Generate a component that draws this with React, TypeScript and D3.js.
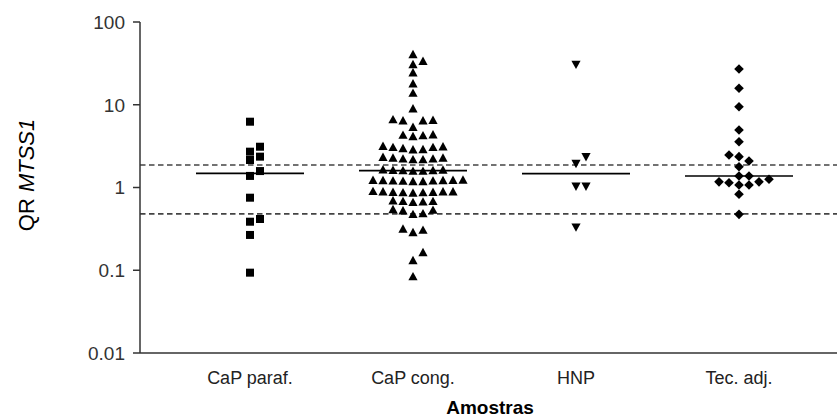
import React from "react";
import * as d3 from "d3";

const W = 837;
const H = 419;

// Sample groups and relative quantification values (log scale)
const categories = ["CaP paraf.", "CaP cong.", "HNP", "Tec. adj."];

const capParaf = [6.24, 3.11, 2.71, 2.36, 2.15, 1.58, 1.38, 0.753, 0.416, 0.386, 0.267, 0.0935];

const capCong = [
  41.0, 34.0, 31.1, 24.7, 18.2, 14.0, 9.06,
  6.7, 6.5, 6.5, 6.6,
  5.43,
  4.2, 4.3, 4.35, 4.4,
  3.0, 3.1, 3.1, 3.15, 3.2, 2.9, 2.92,
  2.2, 2.25, 2.25, 2.3, 2.3, 2.35, 2.2,
  1.6, 1.62, 1.63, 1.64, 1.65, 1.66, 1.6,
  1.2, 1.21, 1.22, 1.23, 1.23, 1.24, 1.25, 1.2, 1.22, 1.24,
  0.87, 0.88, 0.89, 0.9, 0.9, 0.91, 0.89, 0.88, 0.9,
  0.68, 0.69, 0.7, 0.67, 0.69,
  0.54, 0.53, 0.55,
  0.49, 0.48,
  0.32, 0.29, 0.31,
  0.166, 0.133, 0.085,
];

const hnp = [30.3, 2.32, 1.92, 1.02, 1.02, 0.327];

const tecAdj = [
  27.0, 15.8, 9.47, 4.95, 3.57, 2.47, 2.36, 2.09, 1.78, 1.38, 1.38, 1.26,
  1.17, 1.17, 1.14, 1.07, 1.07, 0.828, 0.474,
];

const groupValues = [capParaf, capCong, hnp, tecAdj];
const markerKinds = ["square", "triangleUp", "triangleDown", "diamond"];

const yTicks = [0.01, 0.1, 1, 10, 100];
const yTickLabels = ["0.01", "0.1", "1", "10", "100"];
const refLines = [1.87, 0.48];

const plot = { left: 140, right: W, top: 22, bottom: 353 };

const y = d3.scaleLog().domain([0.01, 100]).range([plot.bottom, plot.top]);
const x = d3.scalePoint<string>().domain(categories).range([250, 739]);

const STEP = 10;
const DY = 8;

// Greedy column-scatter layout: each point takes the nearest free slot
function swarm(values: number[], cx: number) {
  const placed: { x: number; y: number; v: number }[] = [];
  const sorted = [...values].sort((a, b) => a - b);
  for (const v of sorted) {
    const py = y(v);
    for (let k = 0; k < 40; k++) {
      const off = k === 0 ? 0 : (k % 2 === 1 ? 1 : -1) * Math.ceil(k / 2);
      const px = cx + off * STEP;
      const hit = placed.some(
        (p) => Math.abs(p.y - py) < DY && Math.abs(p.x - px) < STEP - 0.5
      );
      if (!hit) {
        placed.push({ x: px, y: py, v });
        break;
      }
    }
  }
  return placed;
}

function markerPath(kind: string, cx: number, cy: number) {
  if (kind === "square") {
    const s = 4;
    return `M${cx - s},${cy - s}H${cx + s}V${cy + s}H${cx - s}Z`;
  }
  if (kind === "triangleUp") {
    const w = 4.6, h = 4.2;
    return `M${cx},${cy - h}L${cx + w},${cy + h}L${cx - w},${cy + h}Z`;
  }
  if (kind === "triangleDown") {
    const w = 4.6, h = 4.2;
    return `M${cx},${cy + h}L${cx + w},${cy - h}L${cx - w},${cy - h}Z`;
  }
  const r = 4.8;
  return `M${cx},${cy - r}L${cx + r},${cy}L${cx},${cy + r}L${cx - r},${cy}Z`;
}

export default function App() {
  const font = "'Liberation Sans', Arial, sans-serif";
  return (
    <div style={{ position: "absolute", left: 0, top: 0 }}>
      <svg width={W} height={H} style={{ display: "block", background: "#fff" }}>
        {/* reference lines */}
        {refLines.map((r, i) => (
          <line
            key={"r" + i}
            x1={plot.left}
            x2={plot.right}
            y1={y(r)}
            y2={y(r)}
            stroke="#444"
            strokeWidth={1.6}
            strokeDasharray="5.5,3.5"
          />
        ))}

        {/* points and medians */}
        {categories.map((c, gi) => {
          const cx = x(c)!;
          const pts = swarm(groupValues[gi], cx);
          const med = d3.median(groupValues[gi])!;
          return (
            <g key={c}>
              {pts.map((p, i) => (
                <path key={i} d={markerPath(markerKinds[gi], p.x, p.y)} fill="#000" />
              ))}
              <line
                x1={cx - 54}
                x2={cx + 54}
                y1={y(med)}
                y2={y(med)}
                stroke="#000"
                strokeWidth={1.6}
              />
            </g>
          );
        })}

        {/* axes */}
        <line x1={plot.left} x2={plot.left} y1={plot.top} y2={plot.bottom} stroke="#333" strokeWidth={1.5} />
        <line x1={plot.left} x2={plot.right} y1={plot.bottom} y2={plot.bottom} stroke="#333" strokeWidth={1.5} />
        {yTicks.map((t, i) => (
          <g key={t}>
            <line x1={plot.left - 7} x2={plot.left} y1={y(t)} y2={y(t)} stroke="#333" strokeWidth={1.5} />
            <text
              x={plot.left - 15}
              y={y(t)}
              dy="0.36em"
              textAnchor="end"
              fontFamily={font}
              fontSize={19}
              fill="#333"
            >
              {yTickLabels[i]}
            </text>
          </g>
        ))}
        {categories.map((c) => (
          <text
            key={"l" + c}
            x={x(c)}
            y={384}
            textAnchor="middle"
            fontFamily={font}
            fontSize={18}
            fill="#222"
          >
            {c}
          </text>
        ))}
        <text x={490} y={414} textAnchor="middle" fontFamily={font} fontSize={19} fontWeight="bold" fill="#000">
          Amostras
        </text>
        <text
          transform={`translate(34,${175}) rotate(-90)`}
          textAnchor="middle"
          fontFamily={font}
          fontSize={22}
          fill="#000"
        >
          QR <tspan fontStyle="italic">MTSS1</tspan>
        </text>
      </svg>
    </div>
  );
}
